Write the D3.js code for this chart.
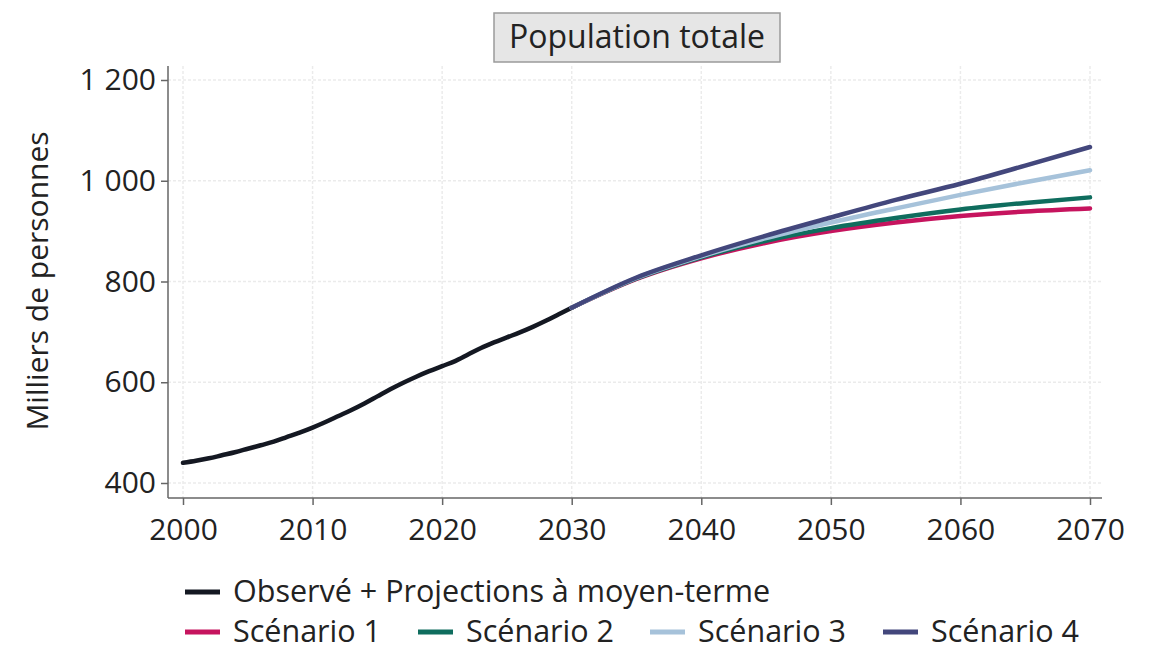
<!DOCTYPE html>
<html>
<head>
<meta charset="utf-8">
<script src="https://cdn.jsdelivr.net/npm/d3@7"></script>
<style>
  body { margin: 0; background: #fff; }
  text { font-family: "Open Sans", "Noto Sans", sans-serif; fill: #222; }
</style>
</head>
<body>
<div id="chart"></div>
<script>
// observed + mid-term projections
var obsYears = [2000, 2001, 2002, 2003, 2004, 2005, 2006, 2007, 2008, 2009, 2010,
    2011, 2012, 2013, 2014, 2015, 2016, 2017, 2018, 2019, 2020,
    2021, 2022, 2023, 2024, 2025, 2026, 2027, 2028, 2029, 2030];
var obsValues = [440, 444, 449, 455, 461, 468, 475, 482, 491, 500, 510,
    521, 533, 545, 558, 572, 586, 599, 611, 622, 632,
    642, 655, 668, 679, 689, 699, 710, 722, 735, 748];

// long-term scenarios
var scenYears = [2030, 2035, 2040, 2045, 2050, 2055, 2060, 2065, 2070];
var scen1 = [748, 805, 846, 877, 900, 917, 930, 939, 945];
var scen2 = [748, 806, 848, 881, 906, 926, 943, 956, 967];
var scen3 = [748, 807, 850, 886, 917, 945, 972, 997, 1021];
var scen4 = [748, 808, 852, 891, 927, 962, 994, 1030, 1067];

var xTicks = [2000, 2010, 2020, 2030, 2040, 2050, 2060, 2070];
var yTicks = [400, 600, 800, 1000, 1200];

var seriesNames = ["Observé + Projections à moyen-terme", "Scénario 1", "Scénario 2", "Scénario 3", "Scénario 4"];
var seriesColors = ["#141822", "#c6145e", "#0f6d5e", "#a6c2da", "#43477c"];

var width = 1153, height = 657;
var svg = d3.select("#chart").append("svg")
    .attr("width", width)
    .attr("height", height);

var x = d3.scaleLinear().domain([2000, 2070]).range([183, 1090]);
var y = d3.scaleLinear().domain([400, 1200]).range([483, 80]);

var axisX = 168, axisY = 498, plotTop = 66, plotRight = 1102;

var fr = d3.formatLocale({ decimal: ",", thousands: " ", grouping: [3], currency: ["", "€"] });
var fmt = fr.format(",d");

// grid
var grid = svg.append("g");
grid.selectAll(".gx").data(xTicks).enter().append("line")
    .attr("x1", function (d) { return x(d); })
    .attr("x2", function (d) { return x(d); })
    .attr("y1", plotTop).attr("y2", axisY)
    .attr("stroke", "#ebebeb").attr("stroke-width", 1.5)
    .attr("stroke-dasharray", "3,2");
grid.selectAll(".gy").data(yTicks).enter().append("line")
    .attr("x1", axisX).attr("x2", plotRight)
    .attr("y1", function (d) { return y(d); })
    .attr("y2", function (d) { return y(d); })
    .attr("stroke", "#ebebeb").attr("stroke-width", 1.5)
    .attr("stroke-dasharray", "3,2");

// axes
var gy = svg.append("g")
    .attr("transform", "translate(" + axisX + ",0)")
    .call(d3.axisLeft(y).tickValues(yTicks).tickFormat(fmt).tickSize(7).tickPadding(5));
var gx = svg.append("g")
    .attr("transform", "translate(0," + axisY + ")")
    .call(d3.axisBottom(x).tickValues(xTicks).tickFormat(d3.format("d")).tickSize(7).tickPadding(14));

[gx, gy].forEach(function (g) {
    g.select(".domain").remove();
    g.selectAll(".tick line").attr("stroke", "#666").attr("stroke-width", 1.5);
    g.selectAll(".tick text").style("font-size", "30px").style("font-family", "'Open Sans', sans-serif").attr("fill", "#222");
});

svg.append("line").attr("x1", axisX).attr("x2", axisX).attr("y1", plotTop).attr("y2", axisY)
    .attr("stroke", "#666").attr("stroke-width", 1.5);
svg.append("line").attr("x1", axisX).attr("x2", plotRight).attr("y1", axisY).attr("y2", axisY)
    .attr("stroke", "#666").attr("stroke-width", 1.5);

// y label
svg.append("text")
    .attr("transform", "translate(48," + 281 + ") rotate(-90)")
    .attr("text-anchor", "middle")
    .style("font-size", "30px")
    .text("Milliers de personnes");

// lines
var line = d3.line()
    .x(function (d) { return x(d[0]); })
    .y(function (d) { return y(d[1]); })
    .curve(d3.curveMonotoneX);

var allSeries = [
    d3.zip(obsYears, obsValues),
    d3.zip(scenYears, scen1),
    d3.zip(scenYears, scen2),
    d3.zip(scenYears, scen3),
    d3.zip(scenYears, scen4)
];

svg.append("g").selectAll("path")
    .data(allSeries)
    .enter().append("path")
    .attr("d", line)
    .attr("fill", "none")
    .attr("stroke", function (d, i) { return seriesColors[i]; })
    .attr("stroke-width", 4.5)
    .attr("stroke-linecap", "round");

// title box
var title = svg.append("g");
title.append("rect")
    .attr("x", 494).attr("y", 13).attr("width", 286).attr("height", 49)
    .attr("fill", "#e6e6e6").attr("stroke", "#9a9a9a").attr("stroke-width", 1.5);
title.append("text")
    .attr("x", 637).attr("y", 48)
    .attr("text-anchor", "middle")
    .style("font-size", "32px")
    .text("Population totale");

// legend
var legendPos = [[185, 592], [185, 632], [418, 632], [650, 632], [883, 632]];
var legend = svg.append("g").selectAll("g")
    .data(seriesNames)
    .enter().append("g")
    .attr("transform", function (d, i) { return "translate(" + legendPos[i][0] + "," + legendPos[i][1] + ")"; });
legend.append("line")
    .attr("x1", 0).attr("x2", 35).attr("y1", 0).attr("y2", 0)
    .attr("stroke", function (d, i) { return seriesColors[i]; })
    .attr("stroke-width", 5);
legend.append("text")
    .attr("x", 48).attr("y", 10)
    .style("font-size", "30.5px")
    .text(function (d) { return d; });
</script>
</body>
</html>
